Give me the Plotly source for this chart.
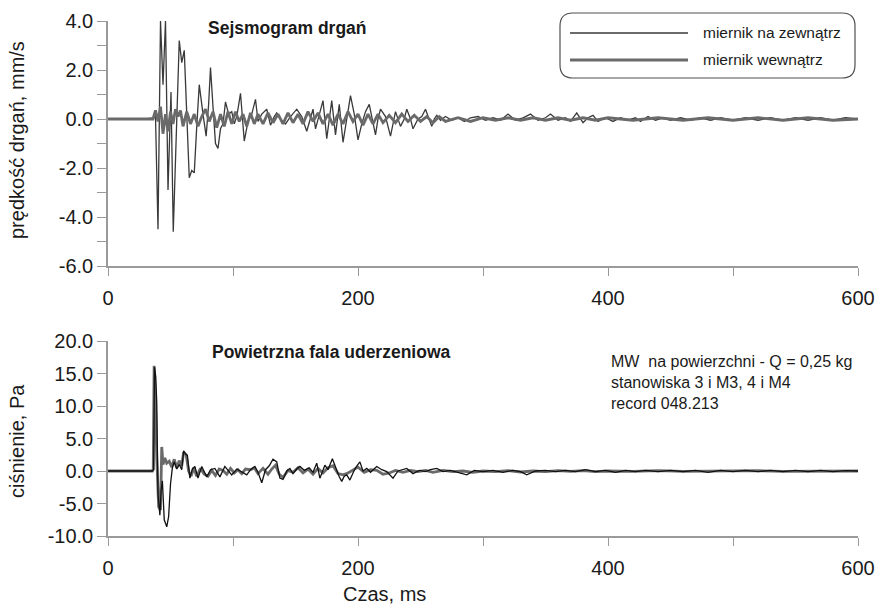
import plotly.graph_objects as go

# ---------------- data ----------------
# top panel: vibration velocity, mm/s
t_top_out = [0, 30, 36, 38, 40, 42, 44, 46, 48, 50.4,
             52.2, 54.5, 57, 59, 61, 63, 65, 67, 69, 71,
             73, 76, 78.5, 80.5, 82, 84, 86, 88, 90, 92,
             94, 96.5, 99, 101, 103, 106, 109, 112, 115, 118,
             120, 123, 127, 130, 133, 135, 138, 142, 146, 151,
             155, 159, 162, 164, 166, 169, 172, 175, 177, 179,
             182, 185, 188, 191, 194, 197, 200, 203, 206, 209,
             212, 214, 216, 218, 222, 226, 230, 234, 237, 239,
             242, 244, 248, 251, 254, 257, 259, 261, 263, 266,
             270, 275, 280, 285, 290, 296, 302, 308, 314, 320,
             326, 332, 338, 344, 350, 354, 360, 366, 370, 375,
             380, 384, 388, 392, 398, 404, 410, 416, 422, 426,
             432, 438, 444, 450, 458, 466, 474, 482, 490, 500,
             510, 520, 530, 540, 550, 560, 570, 580, 590, 600]
v_top_out = [0, 0, 0.05, 0.1, -4.5, 4.0, 1.4, 4.0, -2.9, 1.1,
             -4.6, -0.5, 3.2, 2.3, 2.8, 0.2, -2.4, -2.1, -2.2, -0.3,
             1.4, 0.2, -0.7, 0.6, 2.1, 0.5, -1.0, -1.2, -0.4, -0.2,
             0.7, 0.2, 0.3, -0.2, 0.1, 1.05, -0.9, -0.1, 0.2, 0.8,
             -0.1, 0.2, 0.4, -0.25, 0.1, 0.25, 0.0, -0.2, 0.1, 0.4,
             0.1, -0.5, 0.1, 0.4, -0.4, 0.2, 0.75, -0.8, 0.1, 0.75,
             -0.65, 0.6, -0.95, 0.1, 0.95, 0.2, -0.85, -0.2, 0.3, 0.6,
             -0.1, -0.65, 0.0, 0.4, 0.1, -0.7, 0.3, -0.3, 0.0, 0.4,
             0.0, -0.4, 0.0, 0.1, 0.4, 0.0, -0.3, 0.0, 0.15, -0.05,
             0.1, -0.05, 0.05, -0.1, 0.05, 0.1, -0.05, 0.05, -0.05, 0.2,
             -0.05, 0.05, 0.2, -0.05, 0.05, 0.2, -0.05, 0.05, -0.1, 0.25,
             -0.15, 0.05, 0.15, -0.1, 0.05, -0.1, 0.05, -0.05, 0.05, -0.1,
             0.1, -0.05, 0.05, -0.05, 0.05, -0.05, 0.05, -0.05, 0.05, -0.05,
             0.05, -0.05, 0.05, -0.05, 0.05, -0.05, 0.05, -0.05, 0.05, 0]

t_top_in = [0, 36, 38, 40, 42, 44, 46, 48, 50, 52,
            54, 56, 58, 60, 63, 66, 69, 72, 75, 78,
            81, 84, 87, 90, 93, 96, 99, 102, 105, 108,
            111, 114, 117, 120, 124, 128, 132, 136, 140, 144,
            148, 152, 156, 160, 164, 168, 172, 176, 180, 184,
            188, 192, 196, 200, 204, 208, 212, 216, 220, 225,
            230, 235, 240, 245, 250, 255, 260, 265, 270, 280,
            290, 300, 310, 320, 330, 340, 350, 360, 370, 380,
            390, 400, 420, 440, 460, 480, 500, 520, 540, 560,
            580, 600]
v_top_in = [0, 0, 0.35, -0.1, 0.5, -0.6, 0.2, -0.5, 0.3, -0.2,
            0.4, 0.1, 0.35, -0.3, 0.3, -0.2, 0.2, -0.3, 0.1, 0.4,
            -0.1, 0.3, -0.35, 0.2, -0.3, 0.3, -0.2, 0.3, -0.1, 0.2,
            -0.3, 0.25, -0.2, 0.2, -0.2, 0.25, -0.15, 0.2, -0.2, 0.25,
            -0.15, 0.2, -0.2, 0.3, -0.1, 0.25, -0.2, 0.2, -0.25, 0.2,
            -0.2, 0.3, -0.1, 0.2, -0.25, 0.2, -0.2, 0.2, -0.15, 0.15,
            -0.15, 0.2, -0.1, 0.15, -0.1, 0.1, -0.15, 0.1, -0.1, 0.05,
            -0.1, 0.05, -0.05, 0.05, -0.05, 0.05, -0.05, 0.05, -0.05, 0.05,
            -0.05, 0.05, -0.05, 0.05, -0.05, 0.05, -0.05, 0.05, -0.05, 0.05,
            -0.05, 0]

# bottom panel: air overpressure, Pa
t_bot_out = [0, 35.5, 36.5, 37.2, 38.2, 39, 40, 41.5, 42.5, 43.5,
             45, 47, 48.5, 50, 51.5, 53, 55, 57, 59, 60.5,
             62, 63.5, 65.5, 67.5, 69.5, 72, 75, 77, 79, 82,
             85.5, 89.5, 93.5, 96, 99, 103, 107, 111, 114, 117.5,
             120, 123, 126, 129, 132, 135, 137.5, 140, 143, 145.5,
             148, 151, 153.5, 157, 161, 164, 167, 169.5, 173.5, 176,
             179.5, 182, 185, 187, 189, 191, 193.5, 196, 198, 201.5,
             204, 207, 210, 215, 219, 223, 228, 232, 236, 239,
             244, 249, 254, 258, 263, 268, 274, 280, 287, 293,
             300, 308, 316, 324, 330, 335, 342, 350, 358, 366,
             374, 382, 390, 398, 406, 414, 422, 430, 440, 450,
             460, 470, 480, 490, 500, 510, 520, 530, 540, 550,
             560, 570, 580, 590, 600]
v_bot_out = [0, 0, 0.2, 16.0, 14.5, 10.5, -3.5, -6.8, -3.0, -1.5,
             -7.5, -8.6, -7.0, -2.0, 0.5, 1.4, 0.3, 1.0, 0.2, 3.1,
             2.6, 2.4, -1.1, 0.3, 0.7, -1.1, 0.7, 0.0, -0.9, 0.2,
             0.4, -0.9, 0.7, 0.1, -0.6, 0.3, -0.2, -0.6, 0.2, 0.7,
             -0.2, -1.8, 0.2, 0.8, 1.8, 1.4, -1.1, -1.3, 0.0, 0.4,
             -0.4, 0.3, 0.7, 0.1, 0.5, -0.2, 1.2, -1.1, 0.9, 0.2,
             1.9, 0.5, -0.9, -1.6, -0.8, -0.6, -1.4, -0.3, 0.5, 1.4,
             0.0, 0.4, -0.2, 0.7, 0.2, -0.1, -1.1, 0.0, 0.2, 0.4,
             -0.4, 0.1, -0.1, 0.2, 0.4, -0.1, 0.1, -0.2, -0.6, 0.1,
             -0.1, 0.1, -0.2, 0.1, -0.1, -0.6, 0.0, 0.1, -0.1, 0.1,
             -0.1, 0.2, -0.1, 0.1, -0.2, 0.1, -0.1, 0.1, -0.1, 0.1,
             -0.1, 0.1, -0.2, 0.1, -0.1, 0.1, -0.1, 0.1, -0.1, 0.1,
             -0.1, 0.1, -0.1, 0.05, 0]

t_bot_in = [0, 35.5, 36.2, 36.9, 37.8, 39, 40.5, 42, 43, 44,
            45.5, 47, 49, 51, 53, 55, 57, 59, 60.5, 62.5,
            64.5, 66.5, 68.5, 71, 74, 77, 80, 83, 86, 89,
            92, 95, 98, 101, 104, 107, 110, 114, 117, 120,
            124, 128, 131, 134, 137, 140, 144, 148, 152, 156,
            160, 164, 168, 172, 176, 180, 184, 188, 192, 196,
            200, 205, 210, 215, 220, 225, 230, 236, 242, 248,
            254, 260, 268, 276, 284, 292, 300, 310, 320, 330,
            340, 350, 360, 370, 380, 390, 400, 420, 440, 460,
            480, 500, 520, 540, 560, 580, 600]
v_bot_in = [0, 0, 0.3, 16.2, 12.0, 2.0, -5.5, -6.0, 3.7, 1.0,
            2.0, 1.2, 1.5, 0.6, 1.8, 0.5, 1.6, 0.8, 2.9, 2.5,
            0.0, -0.8, 0.5, -0.8, 0.4, -0.5, -0.8, 0.1, -0.7, 0.3,
            0.1, -0.5, 0.4, -0.3, 0.2, -0.4, 0.3, 0.2, 0.5, -0.4,
            0.4, -0.5, 0.3, 0.9, -0.5, -1.0, 0.1, -0.2, 0.5, -0.3,
            0.3, -0.5, 0.4, -0.3, 0.5, 0.8, -0.4, -0.6, -0.3, 0.2,
            0.6, -0.2, 0.2, 0.1, -0.5, -0.3, 0.1, -0.2, 0.1, -0.1,
            0.1, -0.2, 0.1, -0.1, 0.0, -0.2, 0.0, -0.1, 0.05, -0.15,
            0.0, -0.1, 0.05, -0.05, 0.05, -0.1, 0.0, -0.05, 0.05, -0.05,
            0.0, -0.05, 0.05, -0.05, 0.0, -0.05, 0]

x_tick_vals = [0, 100, 200, 300, 400, 500, 600]
x_tick_text = ["0", "", "200", "", "400", "", "600"]
y1_tick_vals = [-6, -5, -4, -3, -2, -1, 0, 1, 2, 3, 4]
y1_tick_text = ["-6.0", "", "-4.0", "", "-2.0", "", "0.0", "", "2.0", "", "4.0"]
y2_tick_vals = [-10, -5, 0, 5, 10, 15, 20]
y2_tick_text = ["-10.0", "-5.0", "0.0", "5.0", "10.0", "15.0", "20.0"]

series_names = ["miernik na zewnątrz", "miernik wewnątrz"]

# ---------------- styling ----------------
THIN = "#3a3a3a"
THICK = "#6a6a6a"
AX = "#9a9a9a"
TXT = "#1a1a1a"
FONT = "Liberation Sans, Arial, sans-serif"

L, R, T, B = 108, 22, 21, 71
W, H = 880, 607
PW, PH = W - L - R, H - T - B


def px(xp):
    return (xp - L) / PW


def py(yp):
    return (H - B - yp) / PH


fig = go.Figure()
fig.add_trace(go.Scatter(x=t_top_out, y=v_top_out, mode="lines", name=series_names[0],
                         line=dict(color=THIN, width=1.3), xaxis="x", yaxis="y"))
fig.add_trace(go.Scatter(x=t_top_in, y=v_top_in, mode="lines", name=series_names[1],
                         line=dict(color=THICK, width=2.8), xaxis="x", yaxis="y"))
fig.add_trace(go.Scatter(x=t_bot_in, y=v_bot_in, mode="lines", name=series_names[1],
                         line=dict(color=THICK, width=2.8), xaxis="x2", yaxis="y2"))
fig.add_trace(go.Scatter(x=t_bot_out, y=v_bot_out, mode="lines", name=series_names[0],
                         line=dict(color="#111111", width=1.3), xaxis="x2", yaxis="y2"))

common_x = dict(range=[0, 600], tickvals=x_tick_vals, ticktext=x_tick_text,
                ticks="outside", ticklen=8, tickcolor=AX, tickwidth=1.2,
                showline=True, linecolor=AX, linewidth=1.5, showgrid=False,
                zeroline=False, tickfont=dict(size=20, color=TXT, family=FONT),
                ticklabelstandoff=5, automargin=False)
common_y = dict(ticks="outside", ticklen=9, tickcolor=AX, tickwidth=1.2,
                showline=True, linecolor=AX, linewidth=1.5, showgrid=False,
                zeroline=False, tickfont=dict(size=20, color=TXT, family=FONT),
                ticklabelstandoff=0, automargin=False)

top_dom = [py(266), 1]
bot_dom = [0, py(341)]

fig.update_layout(
    width=W, height=H, margin=dict(l=L, r=R, t=T, b=B, autoexpand=False),
    paper_bgcolor="white", plot_bgcolor="white", showlegend=False,
    font=dict(family=FONT, color=TXT),
    xaxis=dict(domain=[0, 1], anchor="y", **common_x),
    yaxis=dict(domain=top_dom, anchor="x", range=[-6, 4],
               tickvals=y1_tick_vals, ticktext=y1_tick_text, **common_y),
    xaxis2=dict(domain=[0, 1], anchor="y2", **common_x),
    yaxis2=dict(domain=bot_dom, anchor="x2", range=[-10, 20],
                tickvals=y2_tick_vals, ticktext=y2_tick_text, **common_y),
)

# legend box (rounded) drawn by hand
x0, x1 = px(560), px(855)
y0, y1 = py(78), py(13)
rx, ry = 13 / PW, 13 / PH
path = (f"M {x0+rx},{y0} L {x1-rx},{y0} Q {x1},{y0} {x1},{y0+ry} "
        f"L {x1},{y1-ry} Q {x1},{y1} {x1-rx},{y1} L {x0+rx},{y1} "
        f"Q {x0},{y1} {x0},{y1-ry} L {x0},{y0+ry} Q {x0},{y0} {x0+rx},{y0} Z")
shapes = [
    dict(type="path", xref="paper", yref="paper", path=path,
         line=dict(color="#505050", width=1.2), fillcolor="white"),
    dict(type="line", xref="paper", yref="paper", x0=px(570), x1=px(688),
         y0=py(33), y1=py(33), line=dict(color=THIN, width=1.3)),
    dict(type="line", xref="paper", yref="paper", x0=px(570), x1=px(688),
         y0=py(60), y1=py(60), line=dict(color=THICK, width=2.8)),
]
fig.update_layout(shapes=shapes)

ann = [
    dict(text=series_names[0], x=px(701), y=py(33), xanchor="left", yanchor="middle"),
    dict(text=series_names[1], x=px(701), y=py(60), xanchor="left", yanchor="middle"),
]
for a in ann:
    a.update(xref="paper", yref="paper", showarrow=False,
             font=dict(size=15.5, color=TXT, family=FONT))
ann += [
    dict(text="<b>Sejsmogram drgań</b>", x=px(287), y=py(28), xref="paper", yref="paper",
         showarrow=False, xanchor="center", yanchor="middle",
         font=dict(size=17.5, color=TXT, family=FONT)),
    dict(text="<b>Powietrzna fala uderzeniowa</b>", x=px(331), y=py(352), xref="paper",
         yref="paper", showarrow=False, xanchor="center", yanchor="middle",
         font=dict(size=17.5, color=TXT, family=FONT)),
    dict(text="MW  na powierzchni - Q = 0,25 kg<br>stanowiska 3 i M3, 4 i M4<br>record 048.213",
         x=px(609), y=py(382), xref="paper", yref="paper", showarrow=False,
         xanchor="left", yanchor="middle", align="left",
         font=dict(size=16, color=TXT, family=FONT)),
    dict(text="prędkość drgań, mm/s", x=px(17), y=py(140), xref="paper", yref="paper",
         showarrow=False, textangle=-90, xanchor="center", yanchor="middle",
         font=dict(size=20, color=TXT, family=FONT)),
    dict(text="ciśnienie, Pa", x=px(17), y=py(441), xref="paper", yref="paper",
         showarrow=False, textangle=-90, xanchor="center", yanchor="middle",
         font=dict(size=20, color=TXT, family=FONT)),
    dict(text="Czas, ms", x=px(384), y=py(594), xref="paper", yref="paper",
         showarrow=False, xanchor="center", yanchor="middle",
         font=dict(size=20, color=TXT, family=FONT)),
]
fig.update_layout(annotations=ann)

fig.write_html("out.html", config={"displayModeBar": False},
               post_script="document.body.style.margin='0';document.body.style.padding='0';")
